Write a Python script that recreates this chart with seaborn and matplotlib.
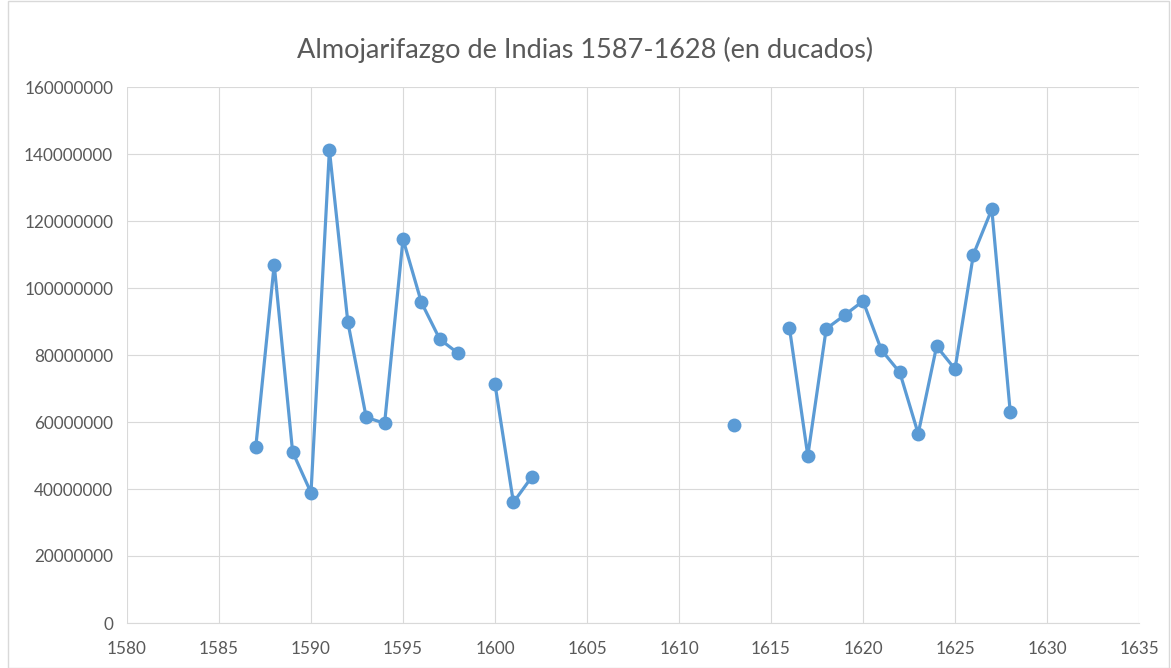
import numpy as np
import pandas as pd
import matplotlib
matplotlib.use("Agg")
import matplotlib.pyplot as plt
import seaborn as sns
from matplotlib.patches import Rectangle

years = [1587, 1588, 1589, 1590, 1591, 1592, 1593, 1594, 1595, 1596, 1597, 1598,
         1600, 1601, 1602,
         1613,
         1616, 1617, 1618, 1619, 1620, 1621, 1622, 1623, 1624, 1625, 1626, 1627, 1628]
values = [52.6, 107.0, 51.1, 38.9, 141.2, 89.9, 61.4, 59.6, 114.6, 95.7, 84.7, 80.5,
          71.3, 36.0, 43.6,
          59.0,
          88.2, 49.9, 87.8, 91.9, 96.1, 81.5, 74.8, 56.5, 82.6, 75.8, 110.0, 123.5, 63.1]
segments = [0] * 12 + [1] * 3 + [2] + [3] * 13
x_ticks = list(range(1580, 1636, 5))
y_ticks = list(range(0, 160000001, 20000000))
title = "Almojarifazgo de Indias 1587-1628 (en ducados)"

df = pd.DataFrame({"year": years,
                   "value": [v * 1e6 for v in values],
                   "segment": segments})

sns.set_theme(style="white")
plt.rcParams["font.family"] = ["Lato", "DejaVu Sans"]

fig = plt.figure(figsize=(11.71, 6.68), dpi=100)
ax = fig.add_axes([127 / 1171, 1 - 623 / 668, (1139 - 127) / 1171, (623 - 87) / 668])

color = "#5B9BD5"
sns.lineplot(data=df, x="year", y="value", units="segment", estimator=None,
             color=color, linewidth=2.3, marker="o", markersize=10,
             markeredgewidth=0, ax=ax, legend=False)

ax.set_xlim(1580, 1635)
ax.set_ylim(0, 160000000)
ax.set_xticks(x_ticks)
ax.set_yticks(y_ticks)
ax.set_xticklabels([str(t) for t in x_ticks])
ax.set_yticklabels([str(t) for t in y_ticks])
ax.grid(True, color="#D9D9D9", linewidth=0.8)
ax.set_axisbelow(True)
for s in ["top", "right", "left"]:
    ax.spines[s].set_visible(False)
ax.spines["bottom"].set_color("#D9D9D9")
ax.spines["bottom"].set_linewidth(0.8)
ax.tick_params(axis="both", length=0, labelsize=12.3, labelcolor="#595959", pad=10)
ax.tick_params(axis="x", pad=13)
ax.set_xlabel("")
ax.set_ylabel("")

fig.text(0.5, 1 - 50 / 668, title, ha="center", va="center",
         fontsize=19.5, color="#595959")

fig.patches.append(Rectangle((8 / 1171, 0), 1 - 10 / 1171, 1 - 1 / 668,
                             transform=fig.transFigure, fill=False,
                             edgecolor="#D9D9D9", linewidth=1))

fig.savefig("out.png", dpi=100)
